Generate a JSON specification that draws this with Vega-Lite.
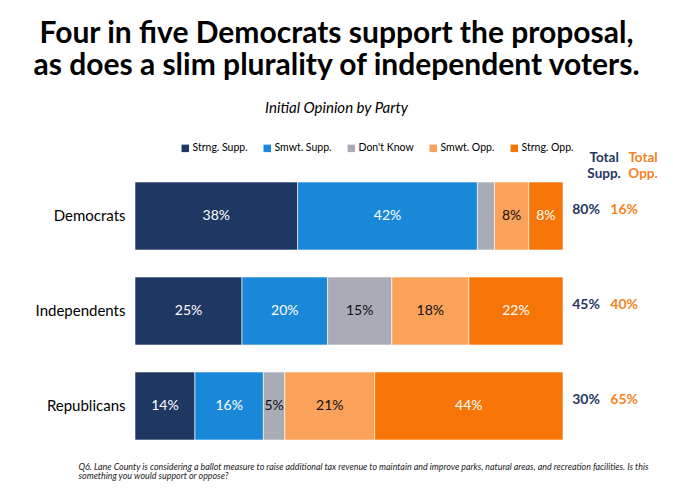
{
  "$schema": "https://vega.github.io/schema/vega-lite/v6.json",
  "width": 535,
  "height": 258,
  "autosize": {"type": "none"},
  "padding": {"left": 135, "top": 182, "right": 3, "bottom": 54},
  "background": "white",
  "config": {"view": {"stroke": null}, "font": "Lato"},
  "title": {
    "text": ["Four in five Democrats support the proposal,", "as does a slim plurality of independent voters."],
    "subtitle": "Initial Opinion by Party",
    "anchor": "middle",
    "dx": -66,
    "font": "Lato",
    "fontSize": 30,
    "fontWeight": "bold",
    "color": "#000000",
    "lineHeight": 32,
    "subtitleFont": "Lato",
    "subtitleFontStyle": "italic",
    "subtitleFontSize": 15,
    "subtitleColor": "#000000",
    "subtitlePadding": 20,
    "offset": 27
  },
  "datasets": {
    "opinion": [
      {"party": "Democrats", "cat": "Strng. Supp.", "k": 1, "pct": 38},
      {"party": "Democrats", "cat": "Smwt. Supp.", "k": 2, "pct": 42},
      {"party": "Democrats", "cat": "Don't Know", "k": 3, "pct": 4},
      {"party": "Democrats", "cat": "Smwt. Opp.", "k": 4, "pct": 8},
      {"party": "Democrats", "cat": "Strng. Opp.", "k": 5, "pct": 8},
      {"party": "Independents", "cat": "Strng. Supp.", "k": 1, "pct": 25},
      {"party": "Independents", "cat": "Smwt. Supp.", "k": 2, "pct": 20},
      {"party": "Independents", "cat": "Don't Know", "k": 3, "pct": 15},
      {"party": "Independents", "cat": "Smwt. Opp.", "k": 4, "pct": 18},
      {"party": "Independents", "cat": "Strng. Opp.", "k": 5, "pct": 22},
      {"party": "Republicans", "cat": "Strng. Supp.", "k": 1, "pct": 14},
      {"party": "Republicans", "cat": "Smwt. Supp.", "k": 2, "pct": 16},
      {"party": "Republicans", "cat": "Don't Know", "k": 3, "pct": 5},
      {"party": "Republicans", "cat": "Smwt. Opp.", "k": 4, "pct": 21},
      {"party": "Republicans", "cat": "Strng. Opp.", "k": 5, "pct": 44}
    ],
    "totals": [
      {"party": "Democrats", "supp": "80%", "opp": "16%"},
      {"party": "Independents", "supp": "45%", "opp": "40%"},
      {"party": "Republicans", "supp": "30%", "opp": "65%"}
    ],
    "heads": [
      {"h": "Total Supp.", "side": "supp"},
      {"h": "Total Opp.", "side": "opp"}
    ]
  },
  "encoding": {
    "y": {
      "field": "party",
      "type": "nominal",
      "sort": ["Democrats", "Independents", "Republicans"],
      "scale": {"paddingInner": 0.284, "paddingOuter": 0},
      "axis": {
        "title": null,
        "ticks": false,
        "domain": false,
        "labelFontSize": 15,
        "labelFont": "Lato",
        "labelColor": "#000000",
        "labelPadding": 10
      }
    }
  },
  "layer": [
    {
      "data": {"name": "opinion"},
      "mark": {"type": "bar", "stroke": "white", "strokeWidth": 0.6},
      "encoding": {
        "x": {
          "field": "pct",
          "type": "quantitative",
          "stack": "zero",
          "scale": {"domain": [0, 125], "nice": false},
          "axis": {
            "labels": false,
            "ticks": false,
            "domain": false,
            "grid": false,
            "title": ["Q6. Lane County is considering a ballot measure to raise additional tax revenue to maintain and improve parks, natural areas, and recreation facilities. Is this", "something you would support or oppose?"],
            "titleFont": "Lato",
            "titleFontSize": 8.9,
            "titleFontStyle": "italic",
            "titleFontWeight": "normal",
            "titleColor": "#222222",
            "titleX": -57,
            "titleY": 29,
            "titleAlign": "left",
            "titleAnchor": "start",
            "titleBaseline": "alphabetic",
            "titleLineHeight": 9.5
          }
        },
        "order": {"field": "k", "type": "quantitative"},
        "color": {
          "field": "cat",
          "type": "nominal",
          "scale": {
            "domain": ["Strng. Supp.", "Smwt. Supp.", "Don't Know", "Smwt. Opp.", "Strng. Opp."],
            "range": ["#1F3763", "#1A88D8", "#A9ABB7", "#FBA25A", "#F77406"]
          },
          "legend": {
            "title": null,
            "orient": "none",
            "legendX": 45,
            "legendY": -39,
            "direction": "horizontal",
            "columns": 5,
            "columnPadding": 14,
            "symbolType": "square",
            "symbolSize": 56,
            "symbolStrokeWidth": 0,
            "labelFont": "Lato",
            "labelFontSize": 10.5,
            "labelColor": "#000000",
            "labelOffset": 2
          }
        }
      }
    },
    {
      "data": {"name": "opinion"},
      "transform": [
        {"stack": "pct", "groupby": ["party"], "sort": [{"field": "k"}], "as": ["p0", "p1"]},
        {"calculate": "(datum.p0 + datum.p1) / 2", "as": "mid"},
        {"calculate": "datum.pct + '%'", "as": "label"},
        {"filter": "datum.pct >= 5"}
      ],
      "mark": {"type": "text", "font": "Lato", "fontSize": 14, "baseline": "middle", "align": "center"},
      "encoding": {
        "x": {"field": "mid", "type": "quantitative"},
        "text": {"field": "label"},
        "color": {
          "condition": {"test": "datum.cat == \"Don't Know\" || datum.cat == \"Smwt. Opp.\"", "value": "#111111"},
          "value": "#FFFFFF"
        }
      }
    },
    {
      "data": {"name": "totals"},
      "mark": {"type": "text", "font": "Lato", "fontSize": 14, "fontWeight": "bold", "baseline": "middle", "align": "center", "dy": -6, "color": "#1F3763"},
      "encoding": {
        "x": {"datum": 105.4, "type": "quantitative"},
        "text": {"field": "supp"}
      }
    },
    {
      "data": {"name": "totals"},
      "mark": {"type": "text", "font": "Lato", "fontSize": 14, "fontWeight": "bold", "baseline": "middle", "align": "center", "dy": -6, "color": "#F58220"},
      "encoding": {
        "x": {"datum": 114.3, "type": "quantitative"},
        "text": {"field": "opp"}
      }
    },
    {
      "data": {"name": "heads"},
      "transform": [{"filter": "datum.side == 'supp'"}],
      "mark": {"type": "text", "font": "Lato", "fontSize": 13.5, "fontWeight": "bold", "baseline": "middle", "align": "center", "lineBreak": " ", "lineHeight": 16, "dy": -58, "color": "#1F3763"},
      "encoding": {
        "x": {"datum": 109.6, "type": "quantitative"},
        "y": {"datum": "Democrats"},
        "text": {"field": "h"}
      }
    },
    {
      "data": {"name": "heads"},
      "transform": [{"filter": "datum.side == 'opp'"}],
      "mark": {"type": "text", "font": "Lato", "fontSize": 13.5, "fontWeight": "bold", "baseline": "middle", "align": "center", "lineBreak": " ", "lineHeight": 16, "dy": -58, "color": "#F58220"},
      "encoding": {
        "x": {"datum": 118.7, "type": "quantitative"},
        "y": {"datum": "Democrats"},
        "text": {"field": "h"}
      }
    }
  ]
}
